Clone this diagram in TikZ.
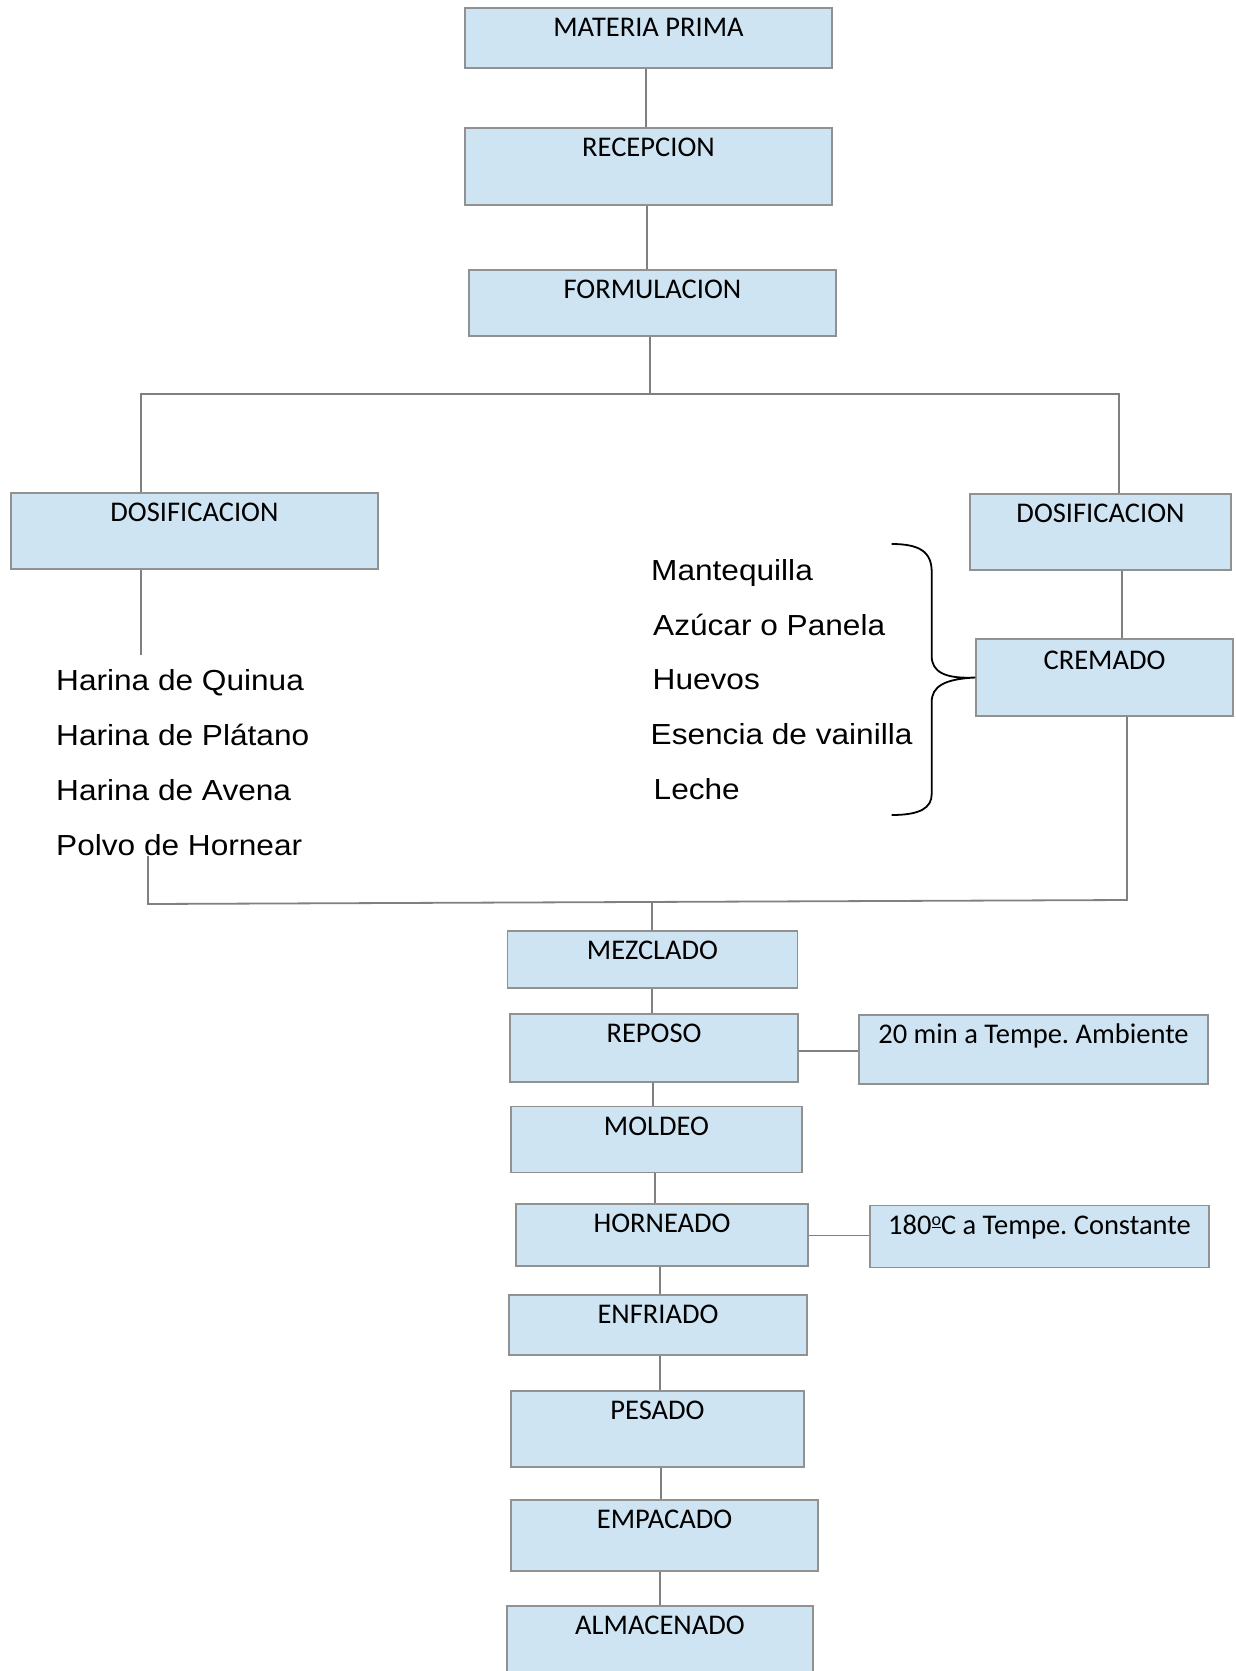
\documentclass[tikz,border=0pt]{standalone}
\usepackage{fontspec}
\setmainfont{Carlito}
\newfontfamily\ingfont[FakeStretch=1.09]{Liberation Sans}
\definecolor{boxfill}{RGB}{207,228,243}
\definecolor{boxdraw}{RGB}{145,145,145}
\definecolor{linkgray}{RGB}{128,128,128}
\newcommand{\ordo}{\raisebox{8.5pt}{\fontsize{18pt}{18pt}\selectfont\underline{o}}}
\frenchspacing
\begin{document}
\begin{tikzpicture}[x=1pt,y=-1pt,
  box/.style={draw=boxdraw, fill=boxfill, line width=1.4pt, inner sep=0pt},
  lab/.style={anchor=north, inner sep=0pt, text height=18.3pt, yshift=-11pt, font=\fontsize{28.5pt}{34pt}\selectfont},
  link/.style={draw=linkgray, line width=1.8pt},
  ing/.style={anchor=base west, inner sep=0pt, font=\ingfont\fontsize{29pt}{34pt}\selectfont},
  brace/.style={draw=black, line width=1.8pt}]
\useasboundingbox (0,0) rectangle (1236,1671);

% boxes
\node[box, minimum width=367pt, minimum height=60pt, label={[lab]north:MATERIA PRIMA}] (mp) at (648.5,38) {};
\node[box, minimum width=367pt, minimum height=77pt, label={[lab]north:RECEPCION}] (rec) at (648.5,166.5) {};
\node[box, minimum width=367pt, minimum height=66pt, label={[lab]north:FORMULACION}] (form) at (652.5,303) {};
\node[box, minimum width=367pt, minimum height=76pt, label={[lab]north:DOSIFICACION}] (dl) at (194.5,531) {};
\node[box, minimum width=261pt, minimum height=76pt, label={[lab]north:DOSIFICACION}] (dr) at (1100.5,532) {};
\node[box, minimum width=257pt, minimum height=77pt, label={[lab,yshift=-1.5pt]north:CREMADO}] (cre) at (1104.5,677.5) {};
\node[box, minimum width=290pt, minimum height=57pt, label={[lab]north:MEZCLADO}] (mez) at (652.5,959.5) {};
\node[box, minimum width=288pt, minimum height=68pt, label={[lab]north:REPOSO}] (rep) at (654,1048) {};
\node[box, minimum width=349pt, minimum height=69pt, label={[lab]north:20 min a Tempe. Ambiente}] (r20) at (1033.5,1049.5) {};
\node[box, minimum width=291pt, minimum height=66pt, label={[lab]north:MOLDEO}] (mol) at (656.5,1139.5) {};
\node[box, minimum width=292pt, minimum height=62pt, label={[lab]north:HORNEADO}] (hor) at (662,1235) {};
\node[box, minimum width=339pt, minimum height=62pt, label={[lab]north:180\ordo C a Tempe. Constante}] (r180) at (1039.5,1236.5) {};
\node[box, minimum width=298pt, minimum height=60pt, label={[lab]north:ENFRIADO}] (enf) at (658,1325) {};
\node[box, minimum width=293pt, minimum height=76pt, label={[lab]north:PESADO}] (pes) at (657.5,1429) {};
\node[box, minimum width=307pt, minimum height=71pt, label={[lab]north:EMPACADO}] (emp) at (664.5,1535.5) {};
\node[box, minimum width=306pt, minimum height=84pt, label={[lab]north:ALMACENADO}] (alm) at (660,1648) {};

% ingredients
\node[ing] (i1) at (56,690.7) {Harina de Quinua};
\node[ing] (i2) at (56,745.7) {Harina de Plátano};
\node[ing] (i3) at (56,800.7) {Harina de Avena};
\node[ing] (i4) at (56,855.5) {Polvo de Hornear};
\node[ing] (j1) at (651,580) {Mantequilla};
\node[ing] (j2) at (653,635) {Azúcar o Panela};
\node[ing] (j3) at (652.5,689.5) {Huevos};
\node[ing] (j4) at (650.5,744) {Esencia de vainilla};
\node[ing] (j5) at (653.5,799) {Leche};

% coordinates
\coordinate (tl) at (141,394);
\coordinate (tr) at (1119,394);
\coordinate (jt) at (650,394);
\coordinate (dlend) at (141,655);
\coordinate (pv) at (148,856);
\coordinate (bl) at (148,904);
\coordinate (br) at (1127,900);
\coordinate (bm) at (652,902);

% connectors
\draw[link] ([xshift=-2.5pt]mp.south) -- ([xshift=-2.5pt]mp.south |- rec.north);
\draw[link] ([xshift=-1.5pt]rec.south) -- ([xshift=-1.5pt]rec.south |- form.north);
\draw[link] (form.south -| jt) -- (jt);
\draw[link] (dl.north -| tl) -- (tl) -- (tr) -- (dr.north -| tr);
\draw[link] (dl.south -| dlend) -- (dlend);
\draw[link] ([xshift=21.5pt]dr.south) -- ([xshift=21.5pt]dr.south |- cre.north);
\draw[link] (pv) -- (bl) -- (br) -- (cre.south -| br);
\draw[link] (bm) -- (mez.north -| bm);
\draw[link] ([xshift=-0.8pt]mez.south) -- ([xshift=-0.8pt]mez.south |- rep.north);
\draw[link] ([xshift=-1pt]rep.south) -- ([xshift=-1pt]rep.south |- mol.north);
\draw[link] ([xshift=-1.5pt]mol.south) -- ([xshift=-1.5pt]mol.south |- hor.north);
\draw[link] ([xshift=-2pt]hor.south) -- ([xshift=-2pt]hor.south |- enf.north);
\draw[link] ([xshift=2pt]enf.south) -- ([xshift=2pt]enf.south |- pes.north);
\draw[link] ([xshift=3.5pt]pes.south) -- ([xshift=3.5pt]pes.south |- emp.north);
\draw[link] ([xshift=-4.5pt]emp.south) -- ([xshift=-4.5pt]emp.south |- alm.north);
\draw[link] (rep.east |- 0,1051) -- (r20.west |- 0,1051);
\draw[link] (hor.east |- 0,1235.5) -- (r180.west |- 0,1235.5);

% brace
\draw[brace] (891.7,544) .. controls (920,544) and (931.7,552) .. (931.7,572)
  -- (931.7,656) .. controls (931.7,672) and (945,679) .. (cre.west)
  .. controls (945,679) and (931.7,686) .. (931.7,702)
  -- (931.7,794) .. controls (931.7,808) and (920,815) .. (891.7,815);
\end{tikzpicture}
\end{document}
